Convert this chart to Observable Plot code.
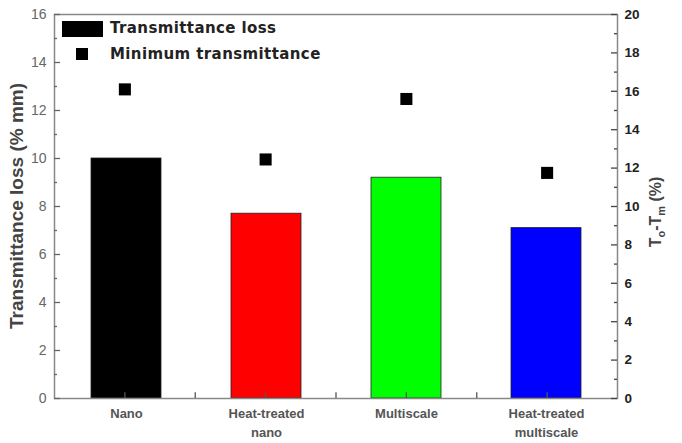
<!DOCTYPE html>
<html><head><meta charset="utf-8">
<script src="https://cdn.jsdelivr.net/npm/d3@7"></script>
<script src="https://cdn.jsdelivr.net/npm/@observablehq/plot@0.6"></script>
<style>
body{margin:0;background:#fff;font-family:Arial,"Liberation Sans",sans-serif;}
#wrap{position:relative;width:682px;height:443px;}
#wrap svg{position:absolute;left:0;top:0;}
.lbl{position:absolute;white-space:nowrap;font-weight:bold;}
</style></head><body>
<div id="wrap"></div>
<script>
const categories = ["Nano", "Heat-treated\nnano", "Multiscale", "Heat-treated\nmultiscale"];
const loss = [10.0, 7.7, 9.2, 7.1];
const minT = [16.1, 12.45, 15.6, 11.75];
const colors = ["#000000", "#ff0000", "#00ff00", "#0000ff"];
const leftTicks = [0, 2, 4, 6, 8, 10, 12, 14, 16];
const leftMinor = [1, 3, 5, 7, 9, 11, 13, 15];
const rightTicks = [0, 2, 4, 6, 8, 10, 12, 14, 16, 18, 20];
const rightMinor = [1, 3, 5, 7, 9, 11, 13, 15, 17, 19];
const xTicks = [0.5, 1, 1.5, 2, 2.5, 3, 3.5];

const data = categories.map((c, i) => ({c, loss: loss[i], minT: minT[i], color: colors[i]}));
const W = 682, H = 443, mL = 54, mR = 65, mT = 14, mB = 45;
const pw = W - mL - mR, ph = H - mT - mB;
const font = "Arial, 'Liberation Sans', sans-serif";

const main = Plot.plot({
  width: W, height: H, marginLeft: mL, marginRight: mR, marginTop: mT, marginBottom: mB,
  style: {fontFamily: font, background: "transparent"},
  x: {domain: categories, paddingInner: 0.5, paddingOuter: 0.25, label: null},
  y: {domain: [0, 16], label: null},
  marks: [
    Plot.barY(data, {x: "c", y: "loss", fill: "color", stroke: "#222", strokeWidth: 0.8}),
    Plot.axisY({ticks: leftTicks, tickSize: 0, tickPadding: 8, fontSize: 14, fill: "#666"}),
    Plot.axisX({tickSize: 0, tickPadding: 7, fontSize: 13, fontWeight: "bold", fill: "#555", lineHeight: 1.4}),
    Plot.frame({stroke: "#888", strokeWidth: 1.5}),
    Plot.ruleY(leftMinor, {y: d => d, insetRight: pw - 3, stroke: "#666", strokeWidth: 1.3}),
    Plot.ruleY(leftTicks, {y: d => d, insetRight: pw - 6, stroke: "#666", strokeWidth: 1.3})
  ]
});
const overlay = Plot.plot({
  width: W, height: H, marginLeft: mL, marginRight: mR, marginTop: mT, marginBottom: mB,
  style: {fontFamily: font, background: "transparent"},
  x: {domain: [0, categories.length], label: null, axis: null},
  y: {domain: [0, 20], label: null, axis: null},
  marks: [
    Plot.ruleX(xTicks, {x: d => d, y1: 0, y2: 0.3, stroke: "#555", strokeWidth: 1.3}),
    Plot.ruleY(rightMinor, {y: d => d, insetLeft: pw - 3, stroke: "#444", strokeWidth: 1.3}),
    Plot.ruleY(rightTicks, {y: d => d, insetLeft: pw - 6, stroke: "#444", strokeWidth: 1.3}),
    Plot.axisY({anchor: "right", ticks: rightTicks, tickSize: 0, tickPadding: 7, fontSize: 13.5, fontWeight: "bold", fill: "#222"}),
    Plot.dot(data, {x: (d, i) => i + 0.5, y: "minT", symbol: "square", r: 6.8, fill: "#000", stroke: null})
  ]
});
const wrap = document.getElementById("wrap");
wrap.appendChild(main);
wrap.appendChild(overlay);

function addLabel(html, css) {
  const d = document.createElement("div");
  d.className = "lbl";
  d.innerHTML = html;
  Object.assign(d.style, css);
  wrap.appendChild(d);
  return d;
}
const sw = document.createElement("div");
Object.assign(sw.style, {position: "absolute", left: "62px", top: "21px", width: "41px", height: "16px", background: "#000"});
wrap.appendChild(sw);
const sq = document.createElement("div");
Object.assign(sq.style, {position: "absolute", left: "76px", top: "48px", width: "12px", height: "12px", background: "#000"});
wrap.appendChild(sq);
addLabel("Transmittance loss", {left: "110px", top: "19px", fontSize: "15px", color: "#222", fontFamily: "'DejaVu Sans', sans-serif", letterSpacing: "0.4px"});
addLabel("Minimum transmittance", {left: "110px", top: "45px", fontSize: "15px", color: "#222", fontFamily: "'DejaVu Sans', sans-serif", letterSpacing: "0.4px"});
addLabel("Transmittance loss (% mm)", {left: "17px", top: "206px", fontSize: "19px", color: "#444", transform: "translate(-50%,-50%) rotate(-90deg)"});
addLabel("T<sub style='font-size:11px'>o</sub>-T<sub style='font-size:11px'>m</sub> (%)", {left: "657px", top: "212px", fontSize: "16px", color: "#444", transform: "translate(-50%,-50%) rotate(-90deg)"});
</script>
</body></html>
